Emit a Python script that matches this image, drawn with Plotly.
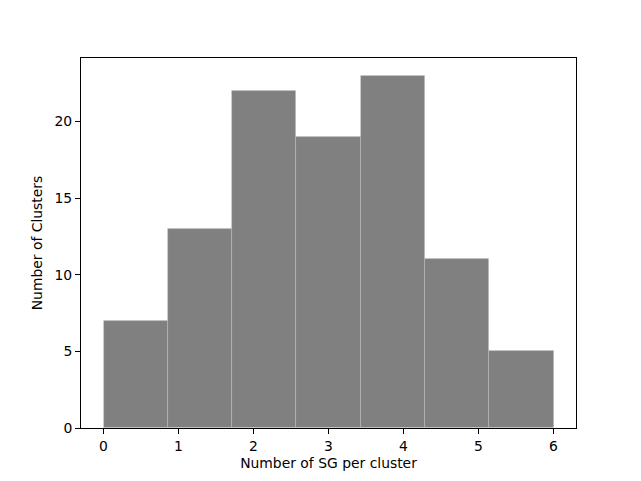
import plotly.graph_objects as go

# Histogram: 7 equal bins spanning 0..6
bin_lo = 0.0
bin_hi = 6.0
n_bins = 7
counts = [7, 13, 22, 19, 23, 11, 5]
x_ticks = [0, 1, 2, 3, 4, 5, 6]
y_ticks = [0, 5, 10, 15, 20]

width = (bin_hi - bin_lo) / n_bins
centers = [bin_lo + width * (i + 0.5) for i in range(n_bins)]

fig = go.Figure(go.Bar(
    x=centers, y=counts, width=[width] * n_bins,
    marker=dict(color="#808080", line=dict(color="rgba(200,200,200,0.4)", width=0.8)),
))

font = dict(family="DejaVu Sans", size=13.9, color="black")
axis_common = dict(showline=True, linecolor="black", linewidth=1, mirror=True,
                   ticks="outside", ticklen=5, tickwidth=1, tickcolor="black",
                   showgrid=False, zeroline=False, tickfont=font)
fig.update_layout(
    width=633, height=473,
    margin=dict(l=73, r=65, t=50, b=53),
    plot_bgcolor="white", paper_bgcolor="white",
    showlegend=False, bargap=0,
    xaxis=dict(range=[-0.3, 6.3], tickvals=x_ticks,
               title=dict(text="Number of SG per cluster", font=font, standoff=5),
               **axis_common),
    yaxis=dict(range=[0, 24.15], tickvals=y_ticks,
               title=dict(text="Number of Clusters", font=font, standoff=8),
               **axis_common),
)
fig.write_html("out.html")
